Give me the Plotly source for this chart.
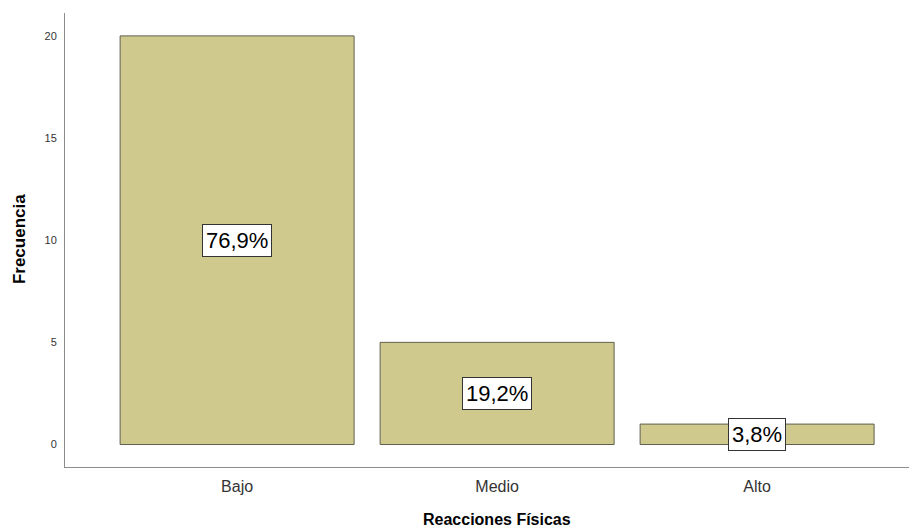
import plotly.graph_objects as go

categories = ["Bajo", "Medio", "Alto"]
counts = [20, 5, 1]
pct_labels = ["76,9%", "19,2%", "3,8%"]
y_ticks = [0, 5, 10, 15, 20]

FONT = "Arial, Liberation Sans, sans-serif"

fig = go.Figure()
fig.add_trace(go.Bar(
    x=list(range(len(categories))),
    y=counts,
    width=0.9,
    marker=dict(color="#d0c98e", line=dict(color="#5f5f50", width=1)),
    hoverinfo="skip",
))

for i, (c, lab) in enumerate(zip(counts, pct_labels)):
    fig.add_annotation(
        x=i, y=c / 2, xref="x", yref="y", text=lab, showarrow=False,
        font=dict(family=FONT, size=22, color="#000000"),
        bgcolor="#ffffff", bordercolor="#333333", borderwidth=1, borderpad=3,
    )

fig.update_layout(
    width=909, height=522,
    margin=dict(l=57, r=0, t=5, b=63, autoexpand=False),
    paper_bgcolor="#ffffff", plot_bgcolor="#ffffff",
    showlegend=False,
    font=dict(family=FONT, color="#333333"),
    xaxis=dict(
        range=[-0.662, 2.615],
        tickmode="array", tickvals=list(range(len(categories))), ticktext=categories,
        tickfont=dict(size=16, color="#333333"),
        showgrid=False, zeroline=False, automargin=False,
        showline=True, linecolor="#8c8c8c", linewidth=1,
        ticks="", ticklen=0, ticklabelstandoff=5,
    ),
    yaxis=dict(
        range=[-1.1, 21.12],
        tickmode="array", tickvals=y_ticks,
        tickfont=dict(size=11, color="#333333"),
        showgrid=False, zeroline=False, automargin=False,
        showline=True, linecolor="#8c8c8c", linewidth=1,
        ticks="", ticklen=0, ticklabelstandoff=5,
    ),
)

fig.add_annotation(
    x=432 / 852, y=-52 / 454, xref="paper", yref="paper",
    xanchor="center", yanchor="middle",
    text="<b>Reacciones Físicas</b>", showarrow=False,
    font=dict(family=FONT, size=16, color="#000000"),
)
fig.add_annotation(
    x=-46 / 852, y=0.502, xref="paper", yref="paper",
    xanchor="center", yanchor="middle",
    text="<b>Frecuencia</b>", showarrow=False, textangle=-90,
    font=dict(family=FONT, size=17, color="#000000"),
)

fig.write_html("out.html")
